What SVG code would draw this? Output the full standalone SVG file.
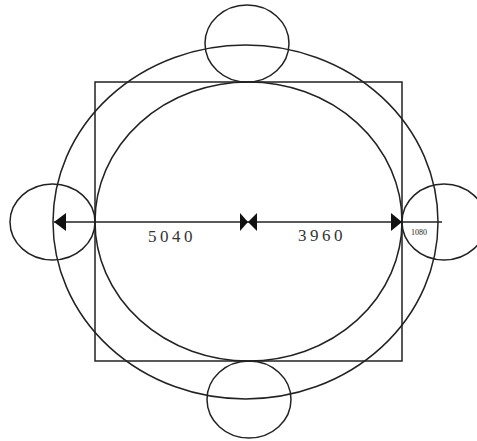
<svg xmlns="http://www.w3.org/2000/svg" width="477" height="441" viewBox="0 0 477 441">
<style>
.s{fill:none;stroke:#222;stroke-width:1.5}
.a{fill:#111;stroke:none}
.t{font-family:"Liberation Serif",serif;font-size:17px;letter-spacing:3.5px;fill:#333}
.u{font-family:"Liberation Serif",serif;font-size:8px;fill:#222}
</style>
<rect width="477" height="441" fill="#fff"/>
<g id="square"><rect class="s" x="95" y="82" width="307" height="279"/></g>
<g id="outer-ellipse"><ellipse class="s" cx="245.5" cy="222" rx="192.5" ry="177"/></g>
<g id="inner-ellipse"><ellipse class="s" cx="248.5" cy="221.5" rx="153.5" ry="139.5"/></g>
<g id="circle-top"><ellipse class="s" cx="247" cy="43.5" rx="42" ry="38.5"/></g>
<g id="circle-bottom"><ellipse class="s" cx="249" cy="399.5" rx="42" ry="38.5"/></g>
<g id="circle-left"><ellipse class="s" cx="52.5" cy="222" rx="42.5" ry="38"/></g>
<g id="circle-right"><ellipse class="s" cx="444" cy="222" rx="42" ry="38"/></g>
<g id="connectors">
<line class="s" x1="54" y1="222" x2="442" y2="222"/>
<polygon class="a" points="54,222 66,213 66,231"/>
<polygon class="a" points="248,222 240,213 240,231"/>
<polygon class="a" points="248,222 257,213 257,231"/>
<polygon class="a" points="402,222 391,213 391,231"/>
</g>
<g id="labels">
<text class="t" x="148" y="242">5040</text>
<text class="t" x="298" y="241">3960</text>
<text class="u" x="411" y="235">1080</text>
</g>
</svg>
